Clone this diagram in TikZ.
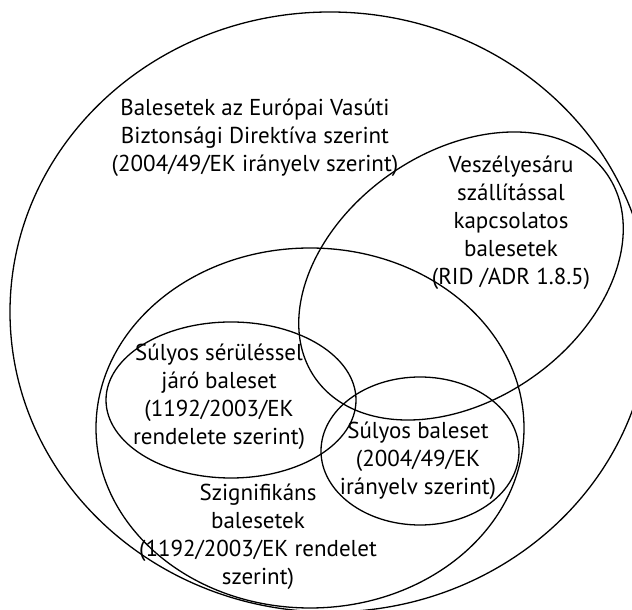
\documentclass[tikz,border=0pt]{standalone}
\usepackage{fontspec}
\setmainfont{PT Sans}
\usepackage{tikz}

\begin{document}
\begin{tikzpicture}[
x=1pt,y=1pt,
set/.style={draw,line width=1.3pt},
lbl/.style={align=center,inner sep=0pt,font=\fontsize{23}{28}\selectfont}
]
\useasboundingbox (0,0) rectangle (632,610);

% halmazok
\draw[set] (330,298) ellipse [x radius=320,y radius=300];
\draw[set] (310,182) ellipse [x radius=214,y radius=180];
\draw[set,rotate around={35:(461,334)}] (461,334) ellipse [x radius=178,y radius=124];
\draw[set] (231,210) ellipse [x radius=125,y radius=78];
\draw[set] (420,159) ellipse [x radius=99,y radius=74];

% feliratok
\node[lbl] (esd) at (255,472) {Balesetek az Európai Vasúti\\Biztonsági Direktíva szerint\\(2004/49/EK irányelv szerint)};
\node[lbl] (rid) at (511,387) {Veszélyesáru\\szállítással\\kapcsolatos\\balesetek\\(RID /ADR 1.8.5)};
\node[lbl] (injury) at (219,213) {Súlyos sérüléssel\\járó baleset\\(1192/2003/EK\\rendelete szerint)};
\node[lbl] (serious) at (418,149) {Súlyos baleset\\(2004/49/EK\\irányelv szerint)};
\node[lbl] (signif) at (258,73) {Szignifikáns\\balesetek\\(1192/2003/EK rendelet\\szerint)};
\end{tikzpicture}
\end{document}
